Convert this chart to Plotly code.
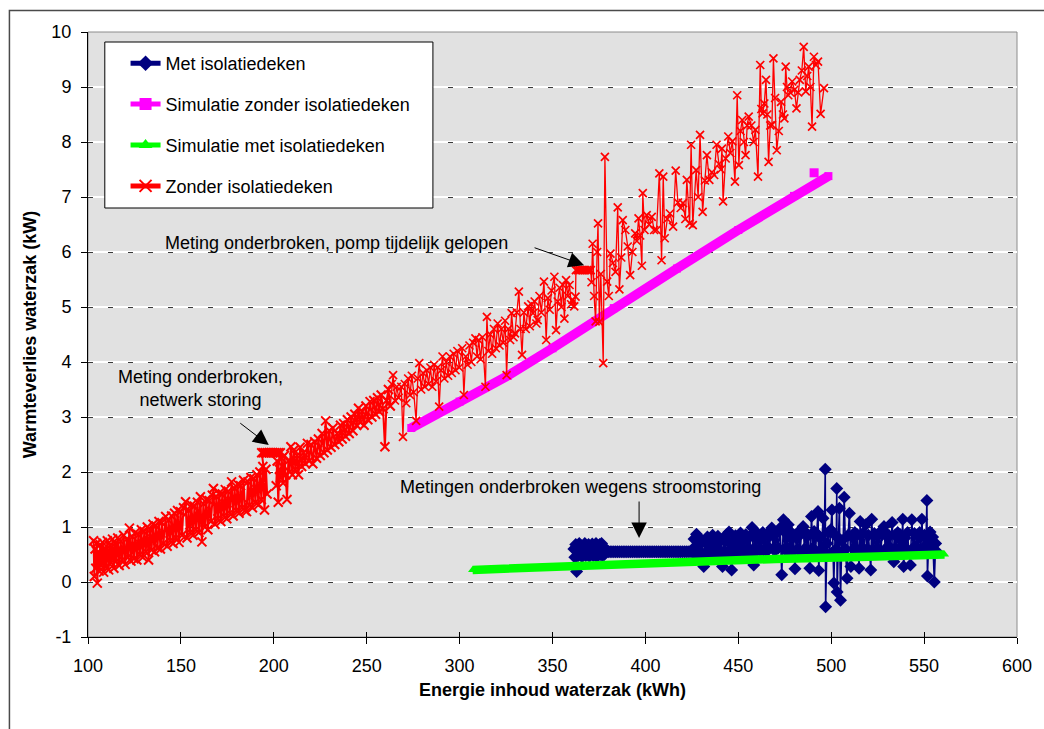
import plotly.graph_objects as go

# ---------------------------------------------------------------
# Measured heat loss of the water bag (kW) versus stored energy (kWh)
# ---------------------------------------------------------------

# "Zonder isolatiedeken" (measured, without insulation blanket)
zonder_deel1 = [
    (103.0, 0.75), (103.4, 0.10), (103.8, 0.60), (104.2, 0.25), (104.6, 0.70), (105.0, -0.02),
    (105.5, 0.55), (106.0, 0.20), (106.6, 0.68), (107.2, 0.30), (107.8, 0.72), (108.4, 0.18),
    (109.0, 0.62), (109.7, 0.28), (110.4, 0.75), (111.1, 0.22), (111.8, 0.66), (112.5, 0.35),
    (113.2, 0.78), (113.9, 0.25), (114.6, 0.70), (115.3, 0.38), (116.0, 0.80), (116.8, 0.30),
    (117.6, 0.74), (118.4, 0.40), (119.2, 0.85), (120.0, 0.32), (120.8, 0.78), (121.6, 0.45),
    (122.3, 0.98), (123.1, 0.38), (123.9, 0.82), (124.7, 0.42), (125.5, 0.90), (126.3, 0.40),
    (127.1, 0.86), (127.9, 0.50), (128.7, 0.95), (129.5, 0.45), (130.3, 0.92), (131.1, 0.55),
    (131.9, 1.00), (132.6, 0.40), (133.4, 0.95), (134.2, 0.58), (135.0, 1.05), (135.8, 0.55),
    (136.6, 1.02), (137.4, 0.62), (138.2, 1.10), (139.0, 0.60), (139.8, 1.08), (140.6, 0.70),
    (141.8, 1.19), (142.6, 0.65), (143.4, 1.12), (144.2, 0.75), (145.0, 1.20), (145.8, 0.70),
    (146.6, 1.25), (147.4, 0.80), (148.2, 1.30), (149.0, 0.72), (149.8, 1.28), (150.6, 0.85),
    (151.4, 1.35), (152.5, 1.46), (153.3, 0.80), (154.1, 1.30), (154.9, 0.90), (155.7, 1.40),
    (156.5, 0.85), (157.3, 1.38), (158.1, 0.95), (158.9, 1.45), (159.7, 0.90), (160.5, 1.55),
    (161.3, 0.73), (162.1, 1.42), (162.9, 1.00), (163.7, 1.50), (164.5, 0.95), (165.3, 1.48),
    (166.1, 1.10), (166.9, 1.58), (167.5, 1.70), (168.3, 1.05), (169.1, 1.55), (169.9, 1.15),
    (170.7, 1.62), (171.5, 1.10), (172.3, 1.60), (173.1, 1.20), (173.9, 1.68), (174.7, 1.15),
    (175.5, 1.65), (176.3, 1.25), (177.3, 1.82), (178.1, 1.20), (178.9, 1.70), (179.7, 1.30),
    (180.5, 1.78), (181.3, 1.25), (182.1, 1.75), (182.9, 1.35), (183.7, 1.85), (184.5, 1.30),
    (185.3, 1.28), (186.1, 1.82), (186.9, 1.40), (187.7, 1.90), (188.5, 1.35), (189.3, 1.88),
    (190.1, 1.45), (190.9, 1.95), (191.7, 1.40), (192.5, 2.00), (193.3, 1.50), (194.1, 2.10),
    (195.0, 1.31), (195.8, 2.05), (196.4, 1.60),
]
# network failure: logger kept repeating the last value
zonder_storing1 = [
    (193.5, 2.35), (194.5, 2.35), (195.5, 2.35), (196.5, 2.35), (197.5, 2.35), (198.5, 2.35),
    (199.5, 2.35), (200.5, 2.35), (201.5, 2.35), (202.5, 2.35), (203.5, 2.35),
]
zonder_deel2 = [
    (201.3, 1.75), (201.8, 2.20), (202.4, 1.45), (203.0, 2.05), (203.6, 1.90), (204.3, 2.25),
    (205.0, 1.80), (205.7, 2.30), (206.4, 1.95), (207.1, 1.50), (207.8, 2.20), (208.5, 2.00),
    (209.2, 2.46), (210.0, 1.95), (210.8, 2.40), (211.6, 2.05), (212.5, 2.30), (213.3, 1.95),
    (214.2, 2.45), (215.0, 2.10), (216.0, 2.35), (217.0, 2.15), (218.1, 2.52), (219.0, 2.20),
    (220.0, 2.50), (221.0, 2.15), (222.0, 2.55), (223.0, 2.25), (224.0, 2.60), (225.0, 2.30),
    (226.0, 2.70), (227.0, 2.35), (227.9, 2.93), (228.8, 2.40), (229.8, 2.75), (230.8, 2.45),
    (231.8, 2.80), (232.8, 2.50), (234.1, 2.70), (235.0, 2.55), (235.9, 2.85), (236.8, 2.60),
    (237.6, 2.88), (238.6, 2.65), (239.6, 2.95), (240.6, 2.70), (241.6, 3.00), (242.6, 2.75),
    (243.6, 3.05), (244.6, 2.85), (245.6, 3.16), (246.6, 2.90), (247.6, 3.10), (248.6, 2.85),
    (249.6, 3.20), (250.6, 2.95), (251.8, 3.28), (252.8, 3.00), (253.8, 3.30), (254.8, 3.05),
    (255.8, 3.35), (256.8, 3.10), (257.8, 3.40), (258.8, 3.15), (259.8, 2.46), (260.7, 3.30),
    (261.7, 3.50), (262.7, 3.20), (263.5, 3.60), (264.2, 3.76), (265.2, 3.30), (266.2, 3.55),
    (267.2, 3.35), (268.6, 3.55), (269.5, 2.64), (270.5, 3.60), (271.3, 3.25), (272.3, 3.70),
    (273.3, 3.40), (274.3, 3.75), (275.3, 3.45), (276.6, 2.93), (277.5, 3.70), (278.3, 3.98),
    (279.3, 3.50), (280.3, 3.80), (281.3, 3.55), (282.3, 3.85), (283.3, 3.60), (284.3, 3.90),
    (285.3, 3.55), (286.3, 3.95), (287.3, 3.65), (288.2, 3.90), (289.0, 3.19), (290.0, 3.85),
    (290.8, 4.10), (291.8, 3.70), (292.8, 4.00), (293.8, 3.75), (294.8, 4.10), (295.8, 3.80),
    (296.8, 4.15), (297.8, 3.85), (298.8, 4.20), (299.8, 3.90), (301.4, 4.25), (302.3, 3.40),
    (303.3, 4.10), (304.3, 3.95), (305.3, 4.30), (306.3, 4.00), (307.3, 4.35), (308.5, 4.43),
    (309.4, 4.10), (310.3, 4.40), (311.3, 4.05), (312.3, 4.45), (313.9, 3.55), (314.7, 4.82),
    (315.5, 4.20), (316.5, 4.50), (317.5, 4.15), (318.5, 4.60), (319.5, 4.25), (320.5, 4.70),
    (321.5, 4.30), (322.5, 4.60), (323.5, 4.35), (324.5, 4.75), (325.3, 3.76), (326.2, 4.60),
    (327.2, 4.40), (328.0, 4.89), (329.0, 4.45), (329.8, 4.52), (330.8, 4.90), (331.9, 5.28),
    (332.8, 4.60), (333.6, 4.13), (334.6, 4.90), (335.6, 4.60), (336.9, 5.01), (337.8, 4.65),
    (338.6, 5.05), (339.5, 4.89), (340.4, 5.10), (341.3, 4.70), (342.0, 4.76), (343.0, 5.20),
    (344.0, 4.90), (345.4, 5.46), (346.6, 4.40), (347.5, 5.16), (348.5, 4.95), (349.5, 5.30),
    (351.0, 5.55), (351.9, 4.58), (352.8, 5.10), (353.8, 5.35), (354.8, 5.00), (355.6, 5.40),
    (356.4, 4.79), (357.3, 5.49), (358.2, 5.20), (359.2, 5.40), (360.0, 5.05), (360.8, 5.13),
    (361.7, 5.01), (362.4, 5.19),
]
# pump ran temporarily: logger kept repeating the last value
zonder_storing2 = [
    (362.6, 5.67), (363.6, 5.67), (364.6, 5.67), (365.6, 5.67), (366.6, 5.67), (367.6, 5.67),
    (368.6, 5.67), (369.6, 5.67), (370.6, 5.67),
]
zonder_deel3 = [
    (371.0, 5.45), (371.6, 6.15), (372.4, 5.20), (373.2, 4.74), (374.0, 6.00), (374.5, 6.52),
    (375.2, 4.73), (376.0, 5.60), (377.3, 3.98), (378.2, 7.73), (379.4, 5.46), (380.3, 5.20),
    (381.2, 5.97), (382.5, 5.80), (383.9, 5.64), (385.1, 6.81), (386.0, 5.32), (387.0, 5.90),
    (387.8, 6.58), (389.2, 6.40), (390.5, 6.10), (391.8, 5.58), (393.0, 6.00), (394.5, 6.34),
    (395.4, 6.20), (396.3, 6.61), (397.2, 6.30), (398.1, 5.75), (398.6, 7.07), (399.5, 6.40),
    (400.7, 6.67), (402.0, 6.50), (403.4, 6.64), (404.7, 6.40), (406.0, 6.40), (407.5, 7.43),
    (408.7, 5.85), (409.6, 7.37), (410.4, 6.25), (411.8, 6.60), (413.2, 6.70), (414.9, 6.46),
    (416.3, 7.48), (417.5, 6.90), (419.0, 6.80), (420.2, 6.89), (421.5, 6.60), (422.3, 7.31),
    (423.8, 6.52), (424.6, 7.95), (425.5, 6.49), (427.3, 7.49), (428.4, 7.00), (429.4, 8.13),
    (430.8, 6.73), (432.0, 7.30), (433.1, 7.76), (434.4, 7.31), (435.8, 7.45), (437.0, 7.40),
    (438.3, 7.95), (439.6, 7.60), (440.6, 7.50), (441.2, 7.88), (441.8, 6.92), (443.2, 7.70),
    (444.6, 8.10), (445.7, 7.80), (446.8, 8.01), (448.2, 7.28), (449.4, 8.85), (450.3, 7.58),
    (451.2, 8.20), (452.1, 8.40), (453.0, 8.00), (453.9, 7.76), (454.8, 8.30), (455.6, 8.46),
    (457.0, 8.30), (458.2, 8.00), (459.2, 8.22), (460.6, 7.37), (461.8, 9.40), (462.4, 8.60),
    (463.1, 8.52), (464.0, 8.70), (464.9, 9.13), (465.6, 8.50), (466.3, 7.64), (467.2, 8.30),
    (468.1, 8.31), (468.9, 9.52), (469.8, 8.80), (470.7, 7.85), (471.8, 8.20), (473.0, 8.73),
    (474.0, 8.50), (474.8, 8.43), (475.5, 9.37), (476.2, 9.00), (476.9, 8.85), (478.0, 8.90),
    (479.0, 9.10), (480.2, 8.95), (481.3, 8.61), (482.2, 8.90), (483.1, 9.13), (484.2, 9.30),
    (485.2, 9.73), (486.3, 8.92), (487.1, 9.20), (487.9, 9.37), (488.8, 9.00), (489.7, 8.28),
    (490.7, 9.55), (491.8, 9.40), (492.9, 9.46), (494.3, 8.51), (496.1, 8.98),
]

# "Met isolatiedeken" (measured, with insulation blanket)
met_deel1 = [
    (361.5, 0.60), (362.0, 0.45), (362.5, 0.68), (363.0, 0.19), (363.4, 0.62), (363.9, 0.48),
    (364.4, 0.70), (364.9, 0.50), (365.4, 0.66), (365.9, 0.46), (366.4, 0.64), (366.9, 0.52),
    (367.4, 0.70), (367.9, 0.48), (368.4, 0.62), (368.9, 0.50), (369.4, 0.68), (369.9, 0.47),
    (370.4, 0.64), (370.9, 0.52), (371.4, 0.69), (371.9, 0.48), (372.4, 0.65), (372.9, 0.50),
    (373.4, 0.70), (373.9, 0.46), (374.4, 0.66), (374.9, 0.52), (375.4, 0.68), (375.9, 0.50),
    (376.4, 0.70), (376.9, 0.48), (377.4, 0.64), (377.9, 0.50), (378.4, 0.60),
]
# power failure: logger kept repeating the last value
met_storing = [
    (379, 0.55), (380, 0.55), (381, 0.55), (382, 0.55), (383, 0.55), (384, 0.55), (385, 0.55),
    (386, 0.55), (387, 0.55), (388, 0.55), (389, 0.55), (390, 0.55), (391, 0.55), (392, 0.55),
    (393, 0.55), (394, 0.55), (395, 0.55), (396, 0.55), (397, 0.55), (398, 0.55), (399, 0.55),
    (400, 0.55), (401, 0.55), (402, 0.55), (403, 0.55), (404, 0.55), (405, 0.55), (406, 0.55),
    (407, 0.55), (408, 0.55), (409, 0.55), (410, 0.55), (411, 0.55), (412, 0.55), (413, 0.55),
    (414, 0.55), (415, 0.55), (416, 0.55), (417, 0.55), (418, 0.55), (419, 0.55), (420, 0.55),
    (421, 0.55), (422, 0.55), (423, 0.55), (424, 0.55), (425, 0.55),
]
met_deel2 = [
    (425.5, 0.60), (426.2, 0.78), (426.9, 0.50), (427.5, 0.87), (428.2, 0.55), (428.9, 0.80),
    (429.6, 0.52), (430.3, 0.75), (431.0, 0.48), (431.4, 0.28), (432.0, 0.72), (432.7, 0.55),
    (433.4, 0.82), (434.1, 0.50), (434.8, 0.76), (435.5, 0.58), (436.2, 0.85), (436.9, 0.52),
    (437.6, 0.78), (438.3, 0.60), (439.0, 0.83), (439.7, 0.50), (440.4, 0.74), (441.0, 0.55),
    (441.5, 0.28), (442.2, 0.80), (442.9, 0.55), (443.6, 0.86), (444.3, 0.52), (445.0, 0.91),
    (445.7, 0.58), (446.4, 0.22), (447.1, 0.75), (447.8, 0.55), (448.5, 0.84), (449.2, 0.58),
    (449.9, 0.80), (450.6, 0.55), (451.2, 0.89), (451.9, 0.60), (452.6, 0.82), (453.3, 0.55),
    (454.0, 0.86), (454.7, 0.60), (455.4, 0.80), (456.1, 0.52), (456.8, 0.85), (457.4, 0.99),
    (458.0, 0.60), (458.3, 0.31), (459.0, 0.80), (459.7, 0.56), (460.4, 0.88), (461.1, 0.60),
    (461.8, 0.82), (462.5, 0.55), (463.2, 0.90), (463.9, 0.60), (464.6, 0.84), (465.3, 0.56),
    (466.0, 0.88), (466.7, 0.62), (467.4, 0.85), (468.0, 0.98), (468.7, 0.60), (469.4, 0.86),
    (470.1, 0.58), (470.8, 0.90), (471.5, 0.62), (472.5, 0.98), (473.4, 0.13), (474.3, 1.13),
    (475.0, 0.60), (475.7, 0.88), (476.3, 0.55), (476.9, 1.04), (477.6, 0.62), (478.3, 0.90),
    (479.0, 0.58), (479.7, 0.86), (480.5, 0.24), (481.2, 0.80), (481.9, 0.60), (482.6, 0.92),
    (483.3, 0.55), (484.0, 0.88), (484.9, 1.01), (485.6, 0.60), (486.3, 0.90), (487.0, 0.58),
    (487.7, 0.85), (488.5, 0.25), (489.4, 1.19), (490.1, 0.62), (490.8, 0.92), (491.5, 0.55),
    (492.2, 0.88), (492.9, 1.28), (493.3, 0.21), (494.0, 0.80), (494.8, 0.60), (495.6, 1.16),
    (496.2, 0.55), (496.8, 2.05), (497.0, -0.45), (497.7, 0.70), (498.4, 0.90), (499.1, 0.50),
    (499.8, 0.95), (500.4, 1.31), (501.0, 0.55), (501.4, -0.02), (502.1, 0.85), (502.7, 0.60),
    (503.0, 1.70), (503.2, -0.18), (503.9, 0.80), (504.4, 1.34), (505.0, -0.33), (505.7, 0.75),
    (506.3, 0.55), (507.0, 1.54), (507.7, 0.60), (508.5, 0.07), (509.1, 0.85), (509.8, 1.25),
    (510.6, 0.28), (511.3, 0.82), (512.0, 0.60), (512.7, 0.90), (513.4, 0.55), (514.1, 0.86),
    (515.0, 0.25), (515.6, 1.10), (516.3, 0.62), (517.0, 0.88), (517.8, 0.58), (518.6, 1.04),
    (519.3, 0.60), (520.0, 0.85), (520.7, 0.55), (521.3, 0.22), (521.8, 1.14), (522.5, 0.60),
    (523.2, 0.88), (523.9, 0.56), (524.6, 0.84), (525.3, 0.60), (526.0, 0.90), (526.7, 0.55),
    (527.4, 0.86), (528.4, 1.01), (529.1, 0.60), (529.8, 0.88), (530.5, 0.58), (531.2, 0.84),
    (532.0, 0.62), (532.8, 1.08), (533.7, 0.37), (534.4, 0.85), (535.1, 0.60), (535.8, 0.90),
    (536.5, 0.58), (537.2, 0.86), (537.9, 0.62), (538.5, 1.14), (539.0, 0.28), (539.7, 0.80),
    (540.4, 0.60), (541.1, 0.90), (541.8, 0.55), (542.6, 0.31), (543.4, 1.13), (544.1, 0.62),
    (544.8, 0.88), (545.5, 0.56), (546.2, 0.85), (546.9, 0.60), (547.6, 0.90), (548.3, 0.58),
    (548.8, 1.14), (549.5, 0.62), (550.2, 0.85), (550.9, 0.58), (551.5, 1.48), (551.8, 0.11),
    (552.5, 0.75), (553.2, 0.91), (553.9, 0.60), (554.6, 0.82), (555.5, 0.00), (556.2, 0.70),
    (556.9, 0.55),
]

# Simulations
sim_zonder = [
    (274.0, 2.80), (300.0, 3.28), (326.0, 3.75), (350.0, 4.25), (383.0, 4.98), (417.0, 5.70),
    (450.0, 6.40), (480.0, 7.02), (498.5, 7.38),
]
sim_zonder_los = [(490.8, 7.44)]
sim_met = [
    (307.0, 0.22), (360.0, 0.29), (415.0, 0.36), (470.0, 0.42), (520.0, 0.46), (561.0, 0.50),
]

X_TICKS = [100, 150, 200, 250, 300, 350, 400, 450, 500, 550, 600]
Y_TICKS = [-1, 0, 1, 2, 3, 4, 5, 6, 7, 8, 9, 10]

NAVY = "#000080"
MAGENTA = "#FF00FF"
GREEN = "#00FF00"
RED = "#FF0000"
FONT = "Liberation Sans, Arial, sans-serif"

W, H = 1044, 729
ML, MR, MT, MB = 88, 16, 32, 92
PW, PH = W - ML - MR, H - MT - MB


def px_x(p):
    return (p - ML) / PW


def px_y(p):
    return (H - MB - p) / PH


def xs(pairs):
    return [p[0] for p in pairs]


def ys(pairs):
    return [p[1] for p in pairs]


# the densely sampled early stretch is drawn with a heavier line
DICHT_TOT = 262.7
zonder_dicht = (zonder_deel1 + zonder_storing1
                + [p for p in zonder_deel2 if p[0] <= DICHT_TOT])
zonder_rest = ([p for p in zonder_deel2 if p[0] >= DICHT_TOT]
               + zonder_storing2 + zonder_deel3)
met_all = met_deel1 + met_storing + met_deel2

fig = go.Figure()

fig.add_trace(go.Scatter(
    x=xs(met_all), y=ys(met_all), mode="lines+markers", showlegend=False,
    line=dict(color=NAVY, width=1.6),
    marker=dict(symbol="diamond", size=10, color=NAVY),
))
fig.add_trace(go.Scatter(
    x=xs(sim_zonder), y=ys(sim_zonder), mode="lines+markers", showlegend=False,
    line=dict(color=MAGENTA, width=9.5),
    marker=dict(symbol="square", size=8, color=MAGENTA),
))
fig.add_trace(go.Scatter(
    x=xs(sim_zonder_los), y=ys(sim_zonder_los), mode="markers", showlegend=False,
    marker=dict(symbol="square", size=9, color=MAGENTA),
))
fig.add_trace(go.Scatter(
    x=xs(sim_met), y=ys(sim_met), mode="lines+markers", showlegend=False,
    line=dict(color=GREEN, width=8.5),
    marker=dict(symbol="triangle-up", size=8, color=GREEN),
))
fig.add_trace(go.Scatter(
    x=xs(zonder_dicht), y=ys(zonder_dicht), mode="lines+markers", showlegend=False,
    line=dict(color=RED, width=2.0),
    marker=dict(symbol="x-thin", size=9, color=RED, line=dict(color=RED, width=2)),
))
fig.add_trace(go.Scatter(
    x=xs(zonder_rest), y=ys(zonder_rest), mode="lines+markers", showlegend=False,
    line=dict(color=RED, width=1.3),
    marker=dict(symbol="x-thin", size=8, color=RED, line=dict(color=RED, width=1.7)),
))

# legend entries
legend_items = [
    ("Met isolatiedeken", NAVY, dict(symbol="diamond", size=8, color=NAVY)),
    ("Simulatie zonder isolatiedeken", MAGENTA, dict(symbol="square", size=8, color=MAGENTA)),
    ("Simulatie met isolatiedeken", GREEN, dict(symbol="triangle-up", size=9, color=GREEN)),
    ("Zonder isolatiedeken", RED, dict(symbol="x-thin", size=8, color=RED, line=dict(color=RED, width=1.3))),
]
for i, (name, col, mk) in enumerate(legend_items):
    fig.add_trace(go.Scatter(
        x=[None], y=[None], mode="lines+markers", name=name, legendgroup=f"g{i}",
        line=dict(color=col, width=1), marker=mk,
    ))

# helper traces for the secondary axes (dashed grid, crossing ticks)
fig.add_trace(go.Scatter(x=[None], y=[None], xaxis="x2", yaxis="y", showlegend=False))
fig.add_trace(go.Scatter(x=[None], y=[None], xaxis="x", yaxis="y2", showlegend=False))

axis_font = dict(family=FONT, size=18, color="black")

fig.update_layout(
    width=W, height=H,
    margin=dict(l=ML, r=MR, t=MT, b=MB, pad=0),
    paper_bgcolor="white",
    plot_bgcolor="#E1E1E1",
    font=dict(family=FONT, size=18, color="black"),
    xaxis=dict(
        range=[100, 600], tickvals=X_TICKS, ticktext=[str(v) for v in X_TICKS],
        showgrid=False, zeroline=False, showline=True, linecolor="black", linewidth=1,
        ticks="outside", ticklen=6, tickcolor="black", tickwidth=1,
        tickfont=axis_font, ticklabelstandoff=6,
        title=dict(text="<b>Energie inhoud waterzak (kWh)</b>", font=axis_font, standoff=8),
    ),
    xaxis2=dict(
        range=[100, 600], tickvals=X_TICKS, overlaying="x", anchor="y",
        showgrid=False, zeroline=False, showline=False, showticklabels=False,
        ticks="inside", ticklen=5, tickcolor="black", tickwidth=1,
    ),
    yaxis=dict(
        range=[-1, 10], tickvals=Y_TICKS, ticktext=[str(v) for v in Y_TICKS],
        showgrid=True, gridcolor="white", gridwidth=1.5,
        zeroline=False, showline=True, linecolor="black", linewidth=1,
        ticks="outside", ticklen=6, tickcolor="black", tickwidth=1,
        tickfont=axis_font, ticklabelstandoff=6,
        title=dict(text="<b>Warmteverlies waterzak (kW)</b>", font=axis_font, standoff=10),
    ),
    yaxis2=dict(
        range=[-1, 10], tickvals=Y_TICKS, overlaying="y", anchor="x", side="left",
        showgrid=True, gridcolor="#3a3a3a", gridwidth=1, griddash="5px,15px",
        zeroline=False, showline=False, showticklabels=False, ticks="",
    ),
    legend=dict(
        x=px_x(126), y=px_y(45), xanchor="left", yanchor="top",
        bgcolor="rgba(0,0,0,0)", borderwidth=0,
        font=dict(family=FONT, size=18, color="black"),
        tracegroupgap=14.5, itemsizing="constant",
    ),
    showlegend=True,
)

shapes = [
    # plot-area frame (top / right edges visible)
    dict(type="rect", xref="paper", yref="paper", x0=0, x1=1, y0=0, y1=1,
         line=dict(color="#8c8c8c", width=1), layer="below"),
    # legend box
    dict(type="rect", xref="paper", yref="paper",
         x0=px_x(105), x1=px_x(437), y0=px_y(208), y1=px_y(42),
         fillcolor="white", line=dict(color="black", width=1), layer="above"),
    # outer chart frame
    dict(type="rect", xref="paper", yref="paper",
         x0=px_x(8.5), x1=px_x(1100), y0=px_y(800), y1=px_y(10.5),
         line=dict(color="#4a4a4a", width=1.5), layer="above"),
]
fig.update_layout(shapes=shapes)

note_font = dict(family=FONT, size=18, color="black")
annotations = [
    dict(text="Meting onderbroken,<br>netwerk storing", xref="paper", yref="paper",
         x=px_x(202), y=px_y(388), showarrow=False, font=note_font,
         xanchor="center", yanchor="middle", align="center"),
    dict(text="Meting onderbroken, pomp tijdelijk gelopen", xref="paper", yref="paper",
         x=px_x(339), y=px_y(243), showarrow=False, font=note_font,
         xanchor="center", yanchor="middle"),
    dict(text="Metingen onderbroken wegens stroomstoring", xref="paper", yref="paper",
         x=px_x(586), y=px_y(487), showarrow=False, font=note_font,
         xanchor="center", yanchor="middle"),
    # arrows pointing at the interrupted stretches
    dict(text="", x=197.3, y=2.49, xref="x", yref="y", ax=-30, ay=-23,
         showarrow=True, arrowhead=2, arrowsize=3.1, arrowwidth=1, arrowcolor="black"),
    dict(text="", x=367.0, y=5.76, xref="x", yref="y", ax=-51, ay=-18,
         showarrow=True, arrowhead=2, arrowsize=3.1, arrowwidth=1, arrowcolor="black"),
    dict(text="", x=396.6, y=0.80, xref="x", yref="y", ax=0, ay=-38,
         showarrow=True, arrowhead=2, arrowsize=3.1, arrowwidth=1, arrowcolor="black"),
]
fig.update_layout(annotations=annotations)

fig.write_html("out.html")
